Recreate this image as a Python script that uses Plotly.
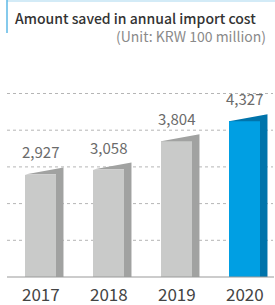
import plotly.graph_objects as go

# ---- data ----
years = ["2017", "2018", "2019", "2020"]
values = [2927, 3058, 3804, 4327]
value_labels = ["2,927", "3,058", "3,804", "4,327"]
title_text = "Amount saved in annual import cost"
unit_text = "(Unit: KRW 100 million)"

# ---- styling / geometry ----
W, H = 275, 305
M_T, M_B = 60, 28
PLOT_H = H - M_T - M_B
PX_PER_UNIT = 0.03807
Y_MIN = 237
Y_MAX = Y_MIN + PLOT_H / PX_PER_UNIT
SLOPE = 7 / PX_PER_UNIT          # rise of slanted top
FRONT_W = 0.456
SIDE_W = 0.11
X_MIN = -40.5 / 68
X_MAX = (W - 40.5) / 68
FONT = "Noto Sans CJK KR"

front_cols = ["#c9cac9", "#c9cac9", "#c9cac9", "#009fe3"]
side_cols = ["#a1a2a1", "#a1a2a1", "#a1a2a1", "#0074ab"]

def py(px):
    return (H - M_B - px) / PLOT_H

fig = go.Figure()

xs = list(range(len(years)))
fig.add_trace(go.Bar(x=xs, y=values, base=0, width=FRONT_W,
                     marker=dict(color=front_cols, line=dict(width=0)),
                     hoverinfo="skip", showlegend=False))

for i, v in enumerate(values):
    xl = i - FRONT_W / 2
    xr = i + FRONT_W / 2
    xs_r = xr + SIDE_W
    fig.add_trace(go.Scatter(
        x=[xl, xs_r, xs_r, xr, xr, xl],
        y=[v, v + SLOPE, 0, 0, v, v],
        fill="toself", fillcolor=side_cols[i], mode="lines",
        line=dict(width=0, color=side_cols[i]),
        hoverinfo="skip", showlegend=False))

shapes = []
# grid lines
for n in range(1, 6):
    yv = Y_MIN + n * (36.7 / PX_PER_UNIT)
    shapes.append(dict(type="line", xref="paper", yref="y",
                       x0=7 / W, x1=273 / W, y0=yv, y1=yv,
                       line=dict(color="#b5b5b5", width=1, dash="dot"), layer="below"))
# baseline
shapes.append(dict(type="line", xref="paper", yref="paper",
                   x0=7 / W, x1=274 / W, y0=0, y1=0,
                   line=dict(color="#9a9a9a", width=1.2)))
# header border lines
shapes.append(dict(type="line", xref="paper", yref="paper",
                   x0=7 / W, x1=1, y0=py(1), y1=py(1),
                   line=dict(color="#a8d8f0", width=1.2)))
shapes.append(dict(type="line", xref="paper", yref="paper",
                   x0=7 / W, x1=7 / W, y0=py(0), y1=py(33),
                   line=dict(color="#5cb8e6", width=1.5)))

annotations = []
for i, (v, lab) in enumerate(zip(values, value_labels)):
    annotations.append(dict(x=i, y=v + SLOPE, xref="x", yref="y", text=lab,
                            showarrow=False, yanchor="middle", yshift=15.6,
                            font=dict(family=FONT, size=15, color="#6b6b6b")))
for i, yr in enumerate(years):
    annotations.append(dict(x=i, y=py(293), xref="x", yref="paper", text=yr,
                            showarrow=False, yanchor="middle",
                            font=dict(family=FONT, size=17, color="#444444")))
annotations.append(dict(x=13 / W, y=py(18), xref="paper", yref="paper", text=title_text,
                        showarrow=False, xanchor="left", yanchor="middle",
                        font=dict(family=FONT, size=14, color="#333333", weight=500)))
annotations.append(dict(x=268 / W, y=py(36), xref="paper", yref="paper", text=unit_text,
                        showarrow=False, xanchor="right", yanchor="middle",
                        font=dict(family=FONT, size=14, color="#8a8a8a")))

fig.update_layout(
    width=W, height=H, margin=dict(l=0, r=0, t=M_T, b=M_B),
    paper_bgcolor="white", plot_bgcolor="white",
    xaxis=dict(range=[X_MIN, X_MAX], visible=False, fixedrange=True),
    yaxis=dict(range=[Y_MIN, Y_MAX], visible=False, fixedrange=True),
    shapes=shapes, annotations=annotations, bargap=0,
)

fig.write_html("out.html", config={"displayModeBar": False},
               post_script="document.body.style.margin='0';document.body.style.padding='0';document.body.style.overflow='hidden';")
